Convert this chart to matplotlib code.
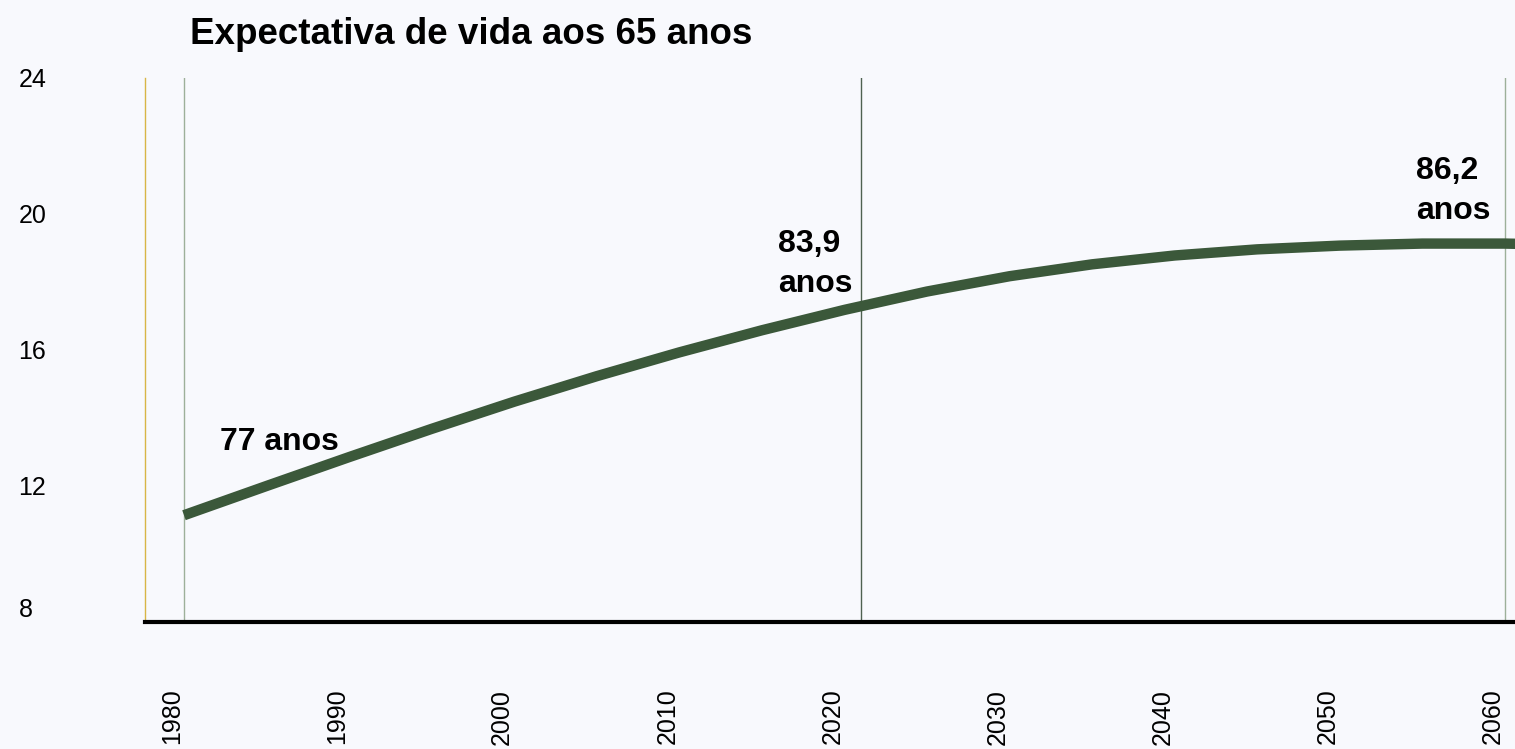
import matplotlib
matplotlib.use("Agg")
import matplotlib.pyplot as plt
import matplotlib.transforms as mtransforms

# ---------------------------------------------------------------------------
# Data
# ---------------------------------------------------------------------------
years = [1980, 1985, 1990, 1995, 2000, 2005, 2010, 2015, 2020, 2025,
         2030, 2035, 2040, 2045, 2050, 2055, 2060, 2061]
values = [11.14, 12.0, 12.85, 13.68, 14.48, 15.23, 15.93, 16.58, 17.18, 17.72,
          18.17, 18.52, 18.78, 18.96, 19.07, 19.13, 19.13, 19.12]

x_ticks = [1980, 1990, 2000, 2010, 2020, 2030, 2040, 2050, 2060]
y_ticks = [8, 12, 16, 20, 24]
marker_years = [1980, 2021, 2060]
marker_colors = ["#9db09a", "#4f6150", "#9db09a"]

labels = ["77 anos", "83,9\nanos", "86,2\nanos"]
label_pos = [(1982.2, 13.73), (2016.0, 19.55), (2054.6, 21.7)]

title = "Expectativa de vida aos 65 anos"

# ---------------------------------------------------------------------------
# Figure
# ---------------------------------------------------------------------------
plt.rcParams["font.family"] = ["Liberation Sans", "DejaVu Sans"]
BG = "#f8f9fd"
LINE = "#3b583a"

fig = plt.figure(figsize=(15.15, 7.49), dpi=100)
fig.patch.set_facecolor(BG)
ax = fig.add_axes([145 / 1515, 1 - 622 / 749, 1 - 145 / 1515, (622 - 78) / 749])
ax.set_facecolor(BG)

ax.set_xlim(1977.64, 2060.61)
ax.set_ylim(8, 24)

for yr, c in zip(marker_years, marker_colors):
    ax.axvline(yr, color=c, lw=1.0, zorder=1)

ax.plot(years, values, color=LINE, lw=7.5, solid_capstyle="butt",
        solid_joinstyle="round", zorder=3)

for txt, (xx, yy) in zip(labels, label_pos):
    ax.text(xx, yy, txt, ha="left", va="top", fontsize=23,
            fontweight="bold", color="black", linespacing=1.43, zorder=4)

# spines
for s in ["top", "right"]:
    ax.spines[s].set_visible(False)
ax.spines["left"].set_color("#d8b646")
ax.spines["left"].set_linewidth(1.0)
ax.spines["bottom"].set_color("black")
ax.spines["bottom"].set_linewidth(3.0)

# ticks
ax.set_yticks(y_ticks)
ax.set_yticklabels([str(v) for v in y_ticks])
ax.tick_params(axis="y", length=0, pad=91, labelsize=18)
for lab in ax.get_yticklabels():
    lab.set_horizontalalignment("left")
ax.get_yticklabels()[0].set_verticalalignment("bottom")

ax.set_xticks(x_ticks)
ax.set_xticklabels([str(v) for v in x_ticks], rotation=90)
ax.tick_params(axis="x", length=0, pad=48, labelsize=18)
shift = mtransforms.ScaledTranslation(-12 / 100, 0, fig.dpi_scale_trans)
for lab in ax.get_xticklabels():
    lab.set_transform(lab.get_transform() + shift)

fig.text(190 / 1515, 1 - 34 / 749, title, ha="left", va="center",
         fontsize=26.5, fontweight="bold", color="black")

fig.savefig("out.png", dpi=100, facecolor=BG)
